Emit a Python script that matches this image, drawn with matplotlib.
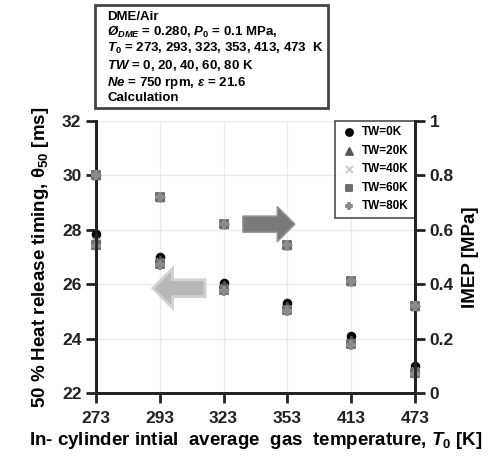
import matplotlib
matplotlib.use("Agg")
import matplotlib.pyplot as plt
from matplotlib.patches import FancyArrow, Rectangle

plt.rcParams['font.family'] = ['Liberation Sans', 'DejaVu Sans']
plt.rcParams['font.weight'] = 'bold'
plt.rcParams['mathtext.fontset'] = 'custom'
plt.rcParams['mathtext.rm'] = 'Liberation Sans:bold'
plt.rcParams['mathtext.it'] = 'Liberation Sans:bold:italic'
plt.rcParams['mathtext.bf'] = 'Liberation Sans:bold'

# datos
temperaturas = ["273", "293", "323", "353", "413", "473"]
series_tw = ["TW=0K", "TW=20K", "TW=40K", "TW=60K", "TW=80K"]

theta_tw0 = [27.85, 27.0, 26.05, 25.3, 24.1, 23.0]
theta_tw20 = [27.7, 26.9, 25.95, 25.2, 23.95, 22.9]
theta_tw40 = [27.55, 26.8, 25.85, 25.1, 23.85, 22.8]
theta_tw60 = [27.45, 26.75, 25.8, 25.05, 23.8, 22.75]
theta_tw80 = [27.4, 26.7, 25.75, 25.0, 23.75, 22.7]

imep_tw0 = [0.80, 0.72, 0.62, 0.545, 0.41, 0.32]
imep_tw20 = [0.80, 0.72, 0.62, 0.545, 0.41, 0.32]
imep_tw40 = [0.80, 0.72, 0.62, 0.545, 0.41, 0.32]
imep_tw60 = [0.80, 0.72, 0.62, 0.545, 0.41, 0.32]
imep_tw80 = [0.80, 0.72, 0.62, 0.545, 0.41, 0.32]

theta = [theta_tw0, theta_tw20, theta_tw40, theta_tw60, theta_tw80]
imep = [imep_tw0, imep_tw20, imep_tw40, imep_tw60, imep_tw80]

# estilo de cada serie
marcadores = ['o', '^', 'x', 's', 'P']
colores = ['black', '#555555', '#c8c8c8', '#6e6e6e', '#8c8c8c']

x = list(range(len(temperaturas)))

fig = plt.figure(figsize=(5.03, 4.62), dpi=100)
ax = fig.add_axes([0.191, 0.149, 0.634, 0.590])
ax2 = ax.twinx()

for i in range(len(series_tw)):
    ax.scatter(x, theta[i], marker=marcadores[i], color=colores[i], s=30,
               zorder=3, clip_on=False, label=series_tw[i], linewidths=1.4)
    ax2.scatter(x, imep[i], marker=marcadores[i], color=colores[i], s=30,
                zorder=3, clip_on=False, linewidths=1.4)

ax.set_xlim(0, 5)
ax.set_ylim(22, 32)
ax2.set_ylim(0, 1)
ax.set_xticks(x)
ax.set_xticklabels(temperaturas)
ax.set_yticks([22, 24, 26, 28, 30, 32])
ax2.set_yticks([0, 0.2, 0.4, 0.6, 0.8, 1])
ax2.set_yticklabels(["0", "0.2", "0.4", "0.6", "0.8", "1"])

ax.grid(True, color='#ebebeb', linewidth=1)
ax.set_axisbelow(True)

for a in (ax, ax2):
    a.spines['top'].set_visible(False)
    for s in ('left', 'right', 'bottom'):
        a.spines[s].set_linewidth(2)
        a.spines[s].set_color('#222222')
    a.tick_params(direction='out', length=7, width=2, colors='#222222',
                  labelsize=12.5, labelcolor='#222222')
ax.tick_params(axis='x', pad=6)

ax.set_ylabel(r"50 % Heat release timing, $\mathrm{θ}_{50}$ [ms]", fontsize=13.5,
              fontweight='bold', labelpad=8)
ax.set_xlabel(r"In- cylinder intial  average  gas  temperature, $T_0$ [K]",
              fontsize=13.5, fontweight='bold', labelpad=3)
ax2.set_ylabel("IMEP [MPa]", fontsize=13.5, fontweight='bold', labelpad=6)

# flechas
ax.add_patch(FancyArrow(2.3, 28.2, 0.82, 0, width=0.6, head_width=1.3,
                        head_length=0.28, length_includes_head=True,
                        facecolor='#7a7a7a', edgecolor='#9a9a9a', zorder=2))
ax.add_patch(FancyArrow(1.71, 25.85, -0.82, 0, width=0.62, head_width=1.45,
                        head_length=0.31, length_includes_head=True,
                        facecolor='#b8b8b8', edgecolor='#d2d2d2', linewidth=2,
                        zorder=2))

ley = ax.legend(loc='upper right', fontsize=8.5, frameon=True, fancybox=False,
                borderaxespad=0, handletextpad=0.5, labelspacing=0.55,
                borderpad=0.5, handlelength=1.3, markerscale=0.9)
ley.get_frame().set_edgecolor('#222222')
ley.get_frame().set_linewidth(1.2)
ley.set_zorder(5)

# cuadro de condiciones
fig.patches.append(Rectangle((95 / 503, 1 - 108 / 462), 233 / 503, 103 / 462,
                             transform=fig.transFigure, fill=False,
                             edgecolor='#444444', linewidth=2))
texto = ("DME/Air\n"
         r"$Ø_{DME}$ = 0.280, $P_0$ = 0.1 MPa," "\n"
         r"$T_0$ = 273, 293, 323, 353, 413, 473  K" "\n"
         r"$TW$ = 0, 20, 40, 60, 80 K" "\n"
         r"$Ne$ = 750 rpm, $ε$ = 21.6" "\n"
         "Calculation")
fig.text(107 / 503, 1 - 11 / 462, texto, fontsize=9.5, fontweight='bold',
         va='top', ha='left', linespacing=1.15)

fig.savefig("out.png", dpi=100)
